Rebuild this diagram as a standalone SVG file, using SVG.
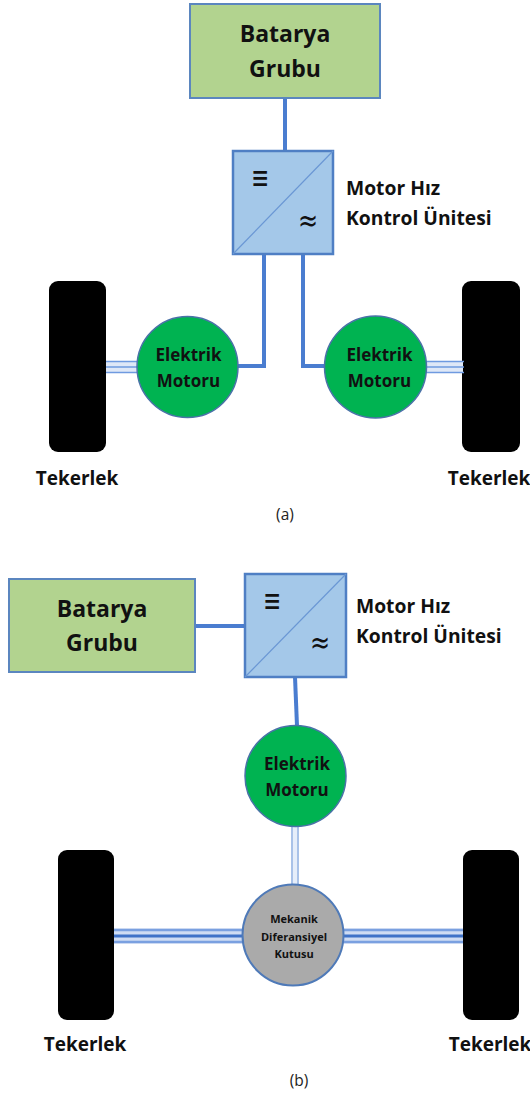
<svg xmlns="http://www.w3.org/2000/svg" width="530" height="1096" viewBox="0 0 530 1096">
<style>
text{font-family:"Open Sans","Liberation Sans",sans-serif;text-anchor:middle;fill:#111;font-weight:700}
.bat{fill:#b2d38f;stroke:#5b86bf;stroke-width:2}
.conv{fill:#a4c8e9;stroke:#4f7fc4;stroke-width:2.5}
.diag{stroke:#6a97d4;stroke-width:1.2;fill:none}
.mot{fill:#00b351;stroke:#4a72a8;stroke-width:1.5}
.wheel{fill:#000}
.wire{stroke:#4a7dd0;stroke-width:4;fill:none}
.sa{stroke:#6f9ae0;stroke-width:1.7;fill:none}
.sab{stroke:#dfe8f7;stroke-width:12;fill:none}
.sb{stroke:#7aa0e0;stroke-width:2.4;fill:none}
.sbc{stroke:#3f72c8;stroke-width:2.8;fill:none}
.sbb{stroke:#cfdcf3;stroke-width:15;fill:none}
.sv{stroke:#a9c2e8;stroke-width:2;fill:none}
.svb{stroke:#e6eefa;stroke-width:6;fill:none}
.lab{font-size:19.3px;text-anchor:start}
.tek{font-size:19px}
.m{font-size:17px}
.bg{font-size:23px}
.cap{font-weight:400;font-size:15.5px;fill:#222}
.d{font-size:11px}
.sym{font-size:24px;font-family:"DejaVu Sans",sans-serif;font-weight:400}
</style>
<rect width="530" height="1096" fill="#fff"/>
<g id="wheel-a1"><rect class="wheel" x="49" y="281" width="57" height="171" rx="9"/><text class="tek" x="77" y="485">Tekerlek</text></g>
<g id="wheel-a2"><rect class="wheel" x="462" y="281" width="58" height="171" rx="9"/><text class="tek" x="489" y="485">Tekerlek</text></g>
<g id="wheel-b1"><rect class="wheel" x="58" y="850" width="56" height="170" rx="9"/><text class="tek" x="85" y="1051">Tekerlek</text></g>
<g id="wheel-b2"><rect class="wheel" x="463" y="850" width="56" height="170" rx="9"/><text class="tek" x="490" y="1051">Tekerlek</text></g>
<g id="connectors">
<path class="wire" d="M285 98V151"/>
<path class="wire" d="M264 255V366H238"/>
<path class="wire" d="M303 255V366H324"/>
<path class="sab" d="M106 367H137M427 367H463"/>
<path class="sa" d="M106 361.5H137M106 367H137M106 372.5H137M427 361.5H464M427 367H464M427 372.5H464"/>
<path class="wire" d="M195 626H245"/>
<path class="wire" d="M295 677L297 726"/>
<path class="svb" d="M295 826V885"/>
<path class="sv" d="M292 826V885M298 826V885"/>
<path class="sbb" d="M114 936H243M343 936H463"/>
<path class="sb" d="M114 930H243M114 942H243M343 930H463M343 942H463"/>
<path class="sbc" d="M114 936H243M343 936H463"/>
</g>
<g id="bat-a"><rect class="bat" x="190" y="4" width="190" height="94"/><text class="bg" x="285" y="42">Batarya</text><text class="bg" x="285" y="77">Grubu</text></g>
<g id="conv-a"><rect class="conv" x="233" y="151" width="100" height="103"/><path class="diag" d="M233 254L333 151"/><text class="sym" transform="translate(260 189) scale(.9 1.4)" x="0" y="0">≡</text><text class="sym" transform="translate(308 231) scale(1 1.3)" x="0" y="0">≈</text></g>
<text class="lab" x="346" y="195">Motor Hız</text><text class="lab" x="346" y="225">Kontrol Ünitesi</text>
<g id="motor-a1"><circle class="mot" cx="187.5" cy="367" r="50.5"/><text class="m" x="188.5" y="361">Elektrik</text><text class="m" x="188.5" y="387">Motoru</text></g>
<g id="motor-a2"><circle class="mot" cx="375.5" cy="367" r="51"/><text class="m" x="379.5" y="361">Elektrik</text><text class="m" x="379.5" y="387">Motoru</text></g>
<text class="cap" x="285" y="520">(a)</text>
<g id="bat-b"><rect class="bat" x="9" y="579" width="186" height="93"/><text class="bg" x="102" y="617">Batarya</text><text class="bg" x="102" y="651">Grubu</text></g>
<g id="conv-b"><rect class="conv" x="245" y="574" width="101" height="103"/><path class="diag" d="M245 677L346 574"/><text class="sym" transform="translate(272 612) scale(.9 1.4)" x="0" y="0">≡</text><text class="sym" transform="translate(320 653) scale(1 1.3)" x="0" y="0">≈</text></g>
<text class="lab" x="356" y="613">Motor Hız</text><text class="lab" x="356" y="643">Kontrol Ünitesi</text>
<g id="motor-b"><circle class="mot" cx="295.5" cy="776" r="50.5"/><text class="m" x="297" y="770">Elektrik</text><text class="m" x="297" y="796">Motoru</text></g>
<g id="diff"><circle cx="293" cy="935" r="50.5" fill="#aaa" stroke="#4f7ab8" stroke-width="2"/><text class="d" x="294" y="923">Mekanik</text><text class="d" x="294" y="941">Diferansiyel</text><text class="d" x="294" y="958">Kutusu</text></g>
<text class="cap" x="299" y="1086">(b)</text>
</svg>
